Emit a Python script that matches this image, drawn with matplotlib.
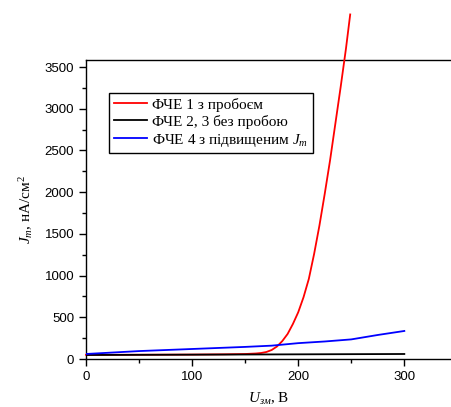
import matplotlib
matplotlib.use("Agg")
import matplotlib.pyplot as plt
import numpy as np
from matplotlib.ticker import MultipleLocator

plt.rcParams['mathtext.fontset'] = 'custom'
plt.rcParams['mathtext.rm'] = 'Liberation Serif'
plt.rcParams['mathtext.it'] = 'Liberation Serif:italic'
plt.rcParams['mathtext.bf'] = 'Liberation Serif:bold'

# Data
x_red = [0, 50, 100, 130, 150, 160, 165, 170, 175, 180, 185, 190, 195, 200, 205, 210,
         215, 220, 225, 230, 235, 240, 245, 249]
y_red = [50, 51, 53, 56, 60, 66, 72, 84, 108, 150, 215, 300, 420, 560, 740, 960,
         1260, 1600, 1980, 2380, 2820, 3260, 3720, 4130]
x_black = [0, 100, 200, 300]
y_black = [48, 52, 56, 60]
x_blue = [0, 50, 100, 150, 175, 200, 225, 250, 275, 300]
y_blue = [60, 95, 120, 145, 160, 190, 210, 235, 288, 336]

labels = ["ФЧЕ 1 з пробоєм", "ФЧЕ 2, 3 без пробою", "ФЧЕ 4 з підвищеним $J_m$"]
colors = ["#ff0000", "#000000", "#0000ff"]

fig = plt.figure(figsize=(4.51, 4.07), dpi=100)
ax = fig.add_axes([86/451, 1-359/407, 1-86/451, (359-60)/407])

ax.plot(x_red, y_red, color=colors[0], lw=1.3, label=labels[0], clip_on=False, zorder=3)
ax.plot(x_black, y_black, color=colors[1], lw=1.3, label=labels[1], zorder=4)
ax.plot(x_blue, y_blue, color=colors[2], lw=1.3, label=labels[2], zorder=4)

ax.set_xlim(0, 344)
ax.set_ylim(0, 3584)
ax.spines['right'].set_visible(False)
for s in ax.spines.values():
    s.set_linewidth(1.0)

ax.xaxis.set_major_locator(MultipleLocator(100))
ax.xaxis.set_minor_locator(MultipleLocator(50))
ax.yaxis.set_major_locator(MultipleLocator(500))
ax.yaxis.set_minor_locator(MultipleLocator(250))
ax.tick_params(which='both', direction='out', top=False, right=False)
ax.tick_params(which='major', length=5, width=1)
ax.tick_params(which='minor', length=3, width=1)
for t in ax.get_xticklabels() + ax.get_yticklabels():
    t.set_fontfamily('Liberation Sans')
    t.set_fontsize(9.5)

ax.set_xlabel("$U_{зм}$, В", family='Liberation Serif', fontsize=11, labelpad=6)
ax.set_ylabel("$J_m$, нА/см$^2$", family='Liberation Serif', fontsize=11, labelpad=7)

leg = ax.legend(loc='upper left', bbox_to_anchor=((109-86)/365, 1-(93-60)/299),
                prop={'family': 'Liberation Serif', 'size': 11},
                frameon=True, fancybox=False, edgecolor='black', framealpha=1,
                handlelength=2.2, handletextpad=0.3, borderpad=0.3, labelspacing=0.2,
                borderaxespad=0)
leg.get_frame().set_linewidth(1.0)

fig.savefig("out.png", dpi=100)
